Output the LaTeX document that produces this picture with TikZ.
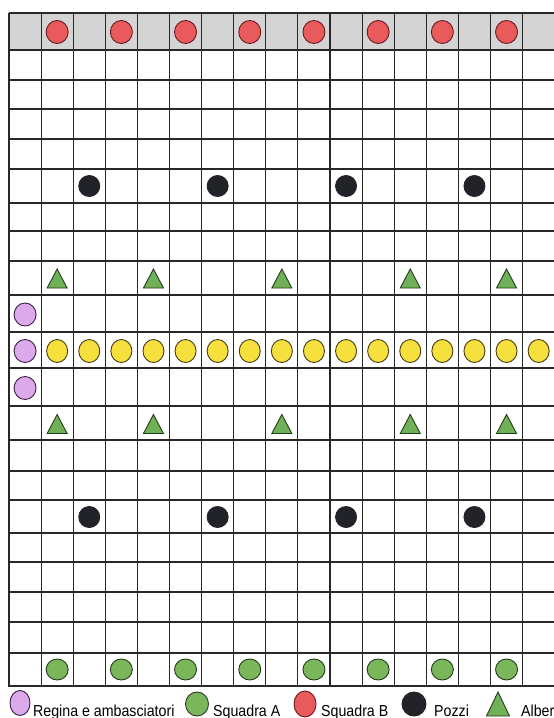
\documentclass[tikz,border=0pt]{standalone}
\usepackage{fontspec}
\setmainfont{Liberation Sans}
\usetikzlibrary{shapes.geometric}
\definecolor{bandgray}{RGB}{212,212,212}
\definecolor{gridc}{RGB}{40,40,40}
\definecolor{redf}{RGB}{232,90,92}
\definecolor{redd}{RGB}{110,25,25}
\definecolor{yelf}{RGB}{246,224,62}
\definecolor{yeld}{RGB}{70,60,20}
\definecolor{purf}{RGB}{220,170,234}
\definecolor{purd}{RGB}{60,30,70}
\definecolor{grnf}{RGB}{124,182,90}
\definecolor{grnd}{RGB}{35,60,30}
\definecolor{trif}{RGB}{112,176,86}
\definecolor{blkf}{RGB}{34,35,40}
\begin{document}
\begin{tikzpicture}[x=1pt,y=-1pt,
  gridline/.style={draw=gridc,line width=1.1pt},
  oval/.style={ellipse,draw,line width=0.9pt,inner sep=0pt,minimum width=22pt,minimum height=23pt},
  redtok/.style={oval,fill=redf,draw=redd},
  yeltok/.style={oval,fill=yelf,draw=yeld,minimum width=21pt},
  purtok/.style={oval,fill=purf,draw=purd},
  grntok/.style={oval,fill=grnf,draw=grnd,minimum height=21pt},
  blktok/.style={oval,fill=blkf,draw=blkf,minimum width=21pt,minimum height=21pt},
  tri/.style={fill=trif,draw=grnd,line width=0.9pt,line join=miter},
  legtext/.style={anchor=base west,inner sep=0pt,font=\fontsize{14.2}{16}\selectfont}
]
\useasboundingbox (0,0) rectangle (554,718);
% gray band
\fill[bandgray] (9,13) rectangle (557,50);
% grid
\foreach \y in {13,50,80,109,139,169,203,231,261,295,332,368,406,440,471,500,533,562,592,622,653,686}
  \draw[gridline] (8.5,\y) -- (557,\y);
\foreach \k in {0,...,17}
  \draw[gridline] ({9+32.1*\k},12.5) -- ({9+32.1*\k},686.5);
% Squadra B (red) row 0
\foreach \k [count=\i] in {1,3,...,15}
  \node[redtok] (sb\i) at ({25.05+32.1*\k},32) {};
% Pozzi (black) rows 5 and 15
\foreach \k [count=\i] in {2,6,10,14}{
  \node[blktok] (pu\i) at ({25.05+32.1*\k},186) {};
  \node[blktok] (pd\i) at ({25.05+32.1*\k},517) {};
}
% Alberi (triangles) rows 8 and 12
\foreach \k [count=\i] in {1,4,8,12,15}{
  \coordinate (tu\i) at ({25.05+32.1*\k},278.5);
  \coordinate (td\i) at ({25.05+32.1*\k},424);
  \draw[tri] ([shift={(-10,9.5)}]tu\i) -- ([shift={(10,9.5)}]tu\i) -- ([shift={(0,-9.5)}]tu\i) -- cycle;
  \draw[tri] ([shift={(-10,9.5)}]td\i) -- ([shift={(10,9.5)}]td\i) -- ([shift={(0,-9.5)}]td\i) -- cycle;
}
% Regina e ambasciatori (purple) column 0
\node[purtok] (q1) at (25.05,314.5) {};
\node[purtok] (q2) at (25.05,351) {};
\node[purtok] (q3) at (25.05,388) {};
% yellow row 10
\foreach \k in {1,...,16}
  \node[yeltok] (y\k) at ({25.05+32.1*\k},351) {};
% Squadra A (green) row 20
\foreach \k [count=\i] in {1,3,...,15}
  \node[grntok] (sa\i) at ({25.05+32.1*\k},669.5) {};
% legend
\node[purtok,minimum width=20pt,minimum height=25pt] (lq) at (20,703) {};
\node[legtext] (lqt) at (33,716) {\scalebox{1}[1.12]{Regina e ambasciatori}};
\node[grntok,minimum width=23pt,minimum height=24pt] (la) at (197,704) {};
\node[legtext] (lat) at (213,716) {\scalebox{1}[1.12]{Squadra A}};
\node[redtok,minimum width=22pt,minimum height=26pt] (lb) at (305,704) {};
\node[legtext] (lbt) at (321,716) {\scalebox{1}[1.12]{Squadra B}};
\node[blktok,minimum width=24pt,minimum height=24pt] (lp) at (414,704) {};
\node[legtext] (lpt) at (434,716) {\scalebox{1}[1.12]{Pozzi}};
\coordinate (lt) at (498,704);
\draw[tri] ([shift={(-11.5,12)}]lt) -- ([shift={(11.5,12)}]lt) -- ([shift={(0,-12)}]lt) -- cycle;
\node[legtext] (ltt) at (521,716) {\scalebox{1}[1.12]{Alber}};
\end{tikzpicture}
\end{document}
